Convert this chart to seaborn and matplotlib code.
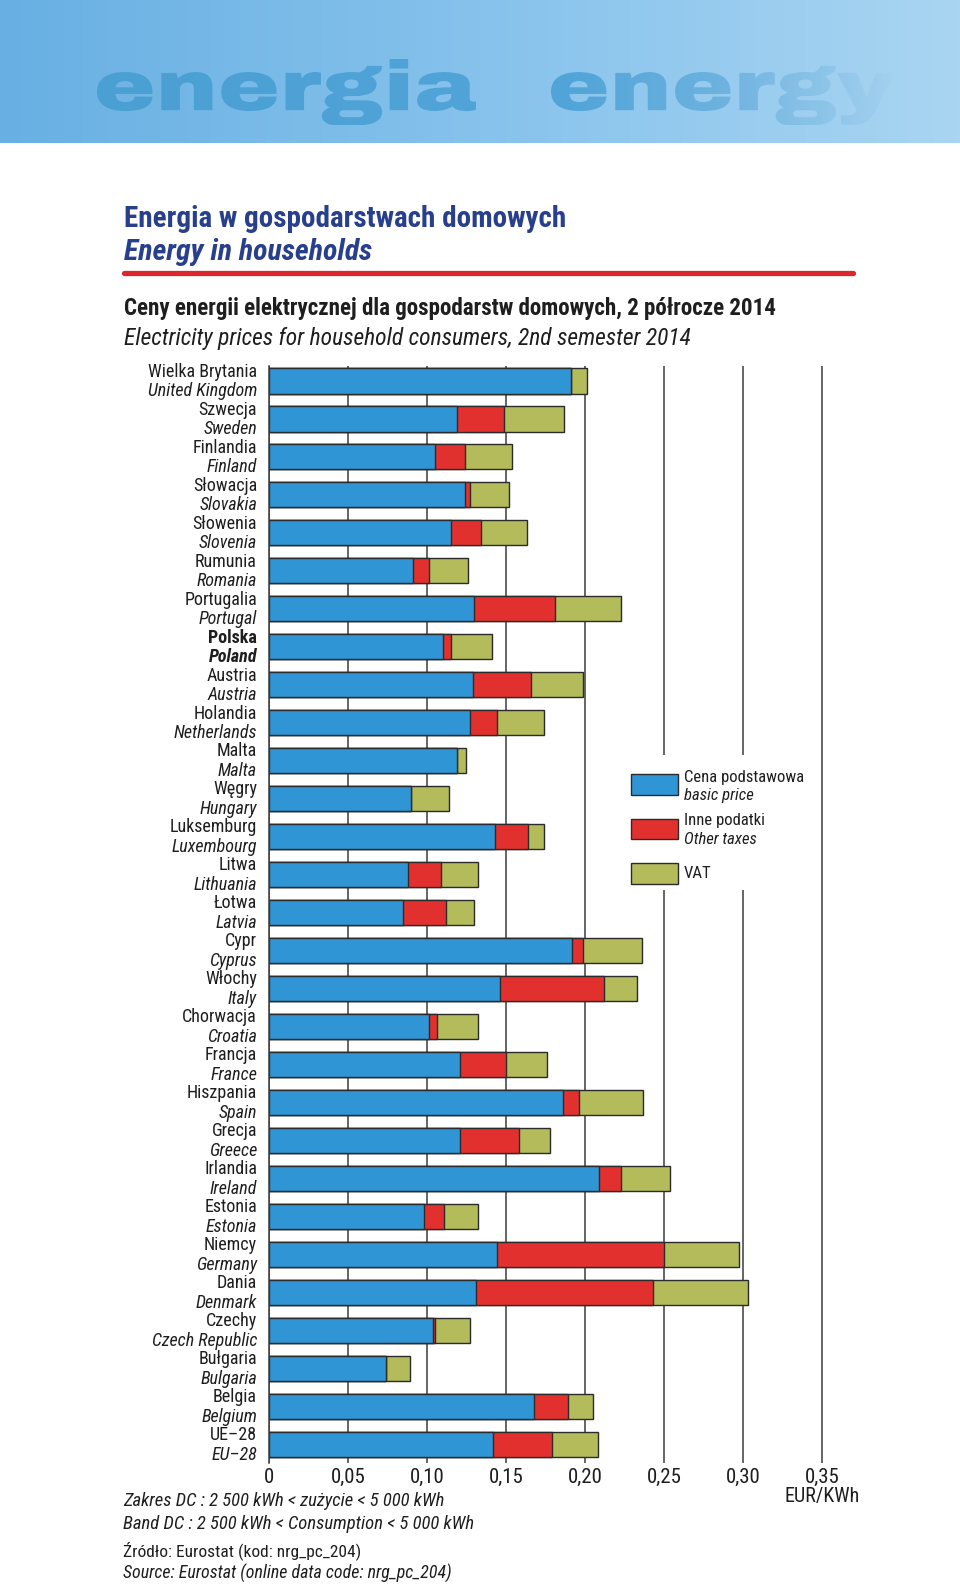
import numpy as np
import pandas as pd
import matplotlib
matplotlib.use("Agg")
import matplotlib.pyplot as plt
import seaborn as sns
from matplotlib.textpath import TextPath
from matplotlib.patches import PathPatch, Rectangle
from matplotlib.font_manager import FontProperties, fontManager
from matplotlib.transforms import Affine2D
from matplotlib.colors import LinearSegmentedColormap
from matplotlib.lines import Line2D

# ---------------- data ----------------
countries_pl = ["Wielka Brytania", "Szwecja", "Finlandia", "Słowacja", "Słowenia", "Rumunia",
                "Portugalia", "Polska", "Austria", "Holandia", "Malta", "Węgry", "Luksemburg",
                "Litwa", "Łotwa", "Cypr", "Włochy", "Chorwacja", "Francja", "Hiszpania", "Grecja",
                "Irlandia", "Estonia", "Niemcy", "Dania", "Czechy", "Bułgaria", "Belgia", "UE–28"]
countries_en = ["United Kingdom", "Sweden", "Finland", "Slovakia", "Slovenia", "Romania",
                "Portugal", "Poland", "Austria", "Netherlands", "Malta", "Hungary", "Luxembourg",
                "Lithuania", "Latvia", "Cyprus", "Italy", "Croatia", "France", "Spain", "Greece",
                "Ireland", "Estonia", "Germany", "Denmark", "Czech Republic", "Bulgaria", "Belgium", "EU–28"]
basic_price = [0.191, 0.119, 0.105, 0.124, 0.115, 0.091, 0.130, 0.110, 0.129, 0.127, 0.119, 0.090,
               0.143, 0.088, 0.085, 0.192, 0.146, 0.101, 0.121, 0.186, 0.121, 0.209, 0.098, 0.144,
               0.131, 0.104, 0.074, 0.168, 0.142]
other_taxes = [0.000, 0.030, 0.019, 0.003, 0.019, 0.010, 0.051, 0.005, 0.037, 0.017, 0.000, 0.000,
               0.021, 0.021, 0.027, 0.007, 0.066, 0.0055, 0.029, 0.010, 0.037, 0.014, 0.0125, 0.106,
               0.112, 0.001, 0.000, 0.021, 0.037]
vat = [0.010, 0.0375, 0.030, 0.025, 0.029, 0.025, 0.042, 0.026, 0.033, 0.030, 0.006, 0.024,
       0.010, 0.023, 0.018, 0.037, 0.021, 0.026, 0.026, 0.041, 0.020, 0.031, 0.022, 0.0475,
       0.060, 0.022, 0.015, 0.016, 0.029]
highlight = "Poland"
x_ticks = [0, 0.05, 0.10, 0.15, 0.20, 0.25, 0.30, 0.35]
x_tick_labels = ["0", "0,05", "0,10", "0,15", "0,20", "0,25", "0,30", "0,35"]
legend_pl = ["Cena podstawowa", "Inne podatki", "VAT"]
legend_en = ["basic price", "Other taxes", ""]

# ---------------- style ----------------
sns.set_style("white")
names = {f.name for f in fontManager.ttflist}
BODY = "Roboto Condensed" if "Roboto Condensed" in names else "DejaVu Sans"
HEAVY = "Archivo Black" if "Archivo Black" in names else "DejaVu Sans"
plt.rcParams["font.family"] = [BODY, "DejaVu Sans"]

BLUE = "#2f95d5"
RED = "#e2302e"
GREEN = "#b3bb5b"
EDGE = "#2b2b2b"
GRID = "#3c3c3c"
TITLE_BLUE = "#273f8c"
INK = "#1e1e1e"

W, H = 960, 1586
fig = plt.figure(figsize=(W / 100, H / 100), dpi=100)
fig.patch.set_facecolor("white")

# ---------------- header band ----------------
hh = 143
hax = fig.add_axes([0, 1 - hh / H, 1, hh / H])
bg_cmap = LinearSegmentedColormap.from_list("bg", ["#68b0e3", "#86c2ec", "#a9d5f2"])
hax.imshow(np.linspace(0, 1, 256)[None, :], extent=(0, W, hh, 0), aspect="auto", cmap=bg_cmap)
txt_cmap = LinearSegmentedColormap.from_list(
    "tx", [(0.0, "#4a9fd3"), (0.6, "#52a5d8"), (0.78, "#6cb2df"), (1.0, "#a2d0ef")])
fp = FontProperties(family=HEAVY, weight="black")
p1 = TextPath((0, 0), "energia", size=100, prop=fp)
b1 = p1.get_extents()
sx1 = (476 - 97) / b1.width
sy = (125 - 59) / b1.height
ty = 59 + sy * b1.y1
t1 = Affine2D().scale(sx1, -sy).translate(97 - sx1 * b1.x0, ty)
p2 = TextPath((0, 0), "energy", size=100, prop=fp)
b2 = p2.get_extents()
sx2 = (894 - 551) / b2.width
t2 = Affine2D().scale(sx2, -sy).translate(551 - sx2 * b2.x0, ty)
for path, tr in [(p1, t1), (p2, t2)]:
    patch = PathPatch(path.transformed(tr), facecolor="none", edgecolor="none", transform=hax.transData)
    hax.add_patch(patch)
    im = hax.imshow(np.linspace(0, 1, 256)[None, :], extent=(97, 894, hh, 0), aspect="auto", cmap=txt_cmap)
    im.set_clip_path(patch)
hax.set_xlim(0, W)
hax.set_ylim(hh, 0)
hax.axis("off")

# ---------------- titles ----------------
def fy(px):
    return 1 - px / H

x0 = 124 / W
fig.text(x0, fy(219), "Energia w gospodarstwach domowych", fontsize=21, fontweight="bold",
         color=TITLE_BLUE, va="center", ha="left")
fig.text(x0, fy(252), "Energy in households", fontsize=21.5, fontweight="bold", fontstyle="italic",
         color=TITLE_BLUE, va="center", ha="left")
fig.add_artist(Line2D([124 / W, 853 / W], [fy(273), fy(273)], color="#d9272d", lw=3.8,
                      transform=fig.transFigure))
fig.text(x0, fy(309), "Ceny energii elektrycznej dla gospodarstw domowych, 2 półrocze 2014",
         fontsize=16.6, fontweight="bold", color=INK, va="center", ha="left")
fig.text(x0, fy(338), "Electricity prices for household consumers, 2nd semester 2014",
         fontsize=16.9, fontstyle="italic", color=INK, va="center", ha="left")

# ---------------- chart ----------------
PX = 1580.0   # pixels per EUR/kWh
x_left = 269
xmax = 0.36
row0 = 381.0
pitch = 37.98
ytop, ybot = -0.4, 28.5
top_px = row0 + ytop * pitch
bot_px = row0 + ybot * pitch
ax = fig.add_axes([x_left / W, 1 - bot_px / H, xmax * PX / W, (bot_px - top_px) / H])

df = pd.DataFrame({"country": countries_en, "basic": basic_price, "other": other_taxes, "vat": vat})
df["c1"] = df["basic"]
df["c2"] = df["basic"] + df["other"]
df["c3"] = df["c2"] + df["vat"]

for col, colr in [("c3", GREEN), ("c2", RED), ("c1", BLUE)]:
    sns.barplot(data=df, x=col, y="country", orient="h", color=colr, saturation=1,
                width=0.66, edgecolor=EDGE, linewidth=1.0, errorbar=None, ax=ax)

ax.set_xlim(0, xmax)
ax.set_ylim(ybot, ytop)
ax.set_xlabel("")
ax.set_ylabel("")
ax.set_yticks([])
ax.set_xticks(x_ticks)
ax.set_xticklabels(x_tick_labels, fontsize=15, color=INK)
ax.tick_params(axis="x", length=0, pad=3.5)
ax.xaxis.grid(True, color=GRID, lw=1.1)
ax.yaxis.grid(False)
ax.set_axisbelow(True)
for s in ["top", "right", "bottom"]:
    ax.spines[s].set_visible(False)
ax.spines["left"].set_color(GRID)
ax.spines["left"].set_linewidth(1.1)
ax.set_facecolor("none")

# country labels
lx = (257 - x_left) / PX
for i, (pl, en) in enumerate(zip(countries_pl, countries_en)):
    w = "bold" if en == highlight else "normal"
    ax.text(lx, i - 0.245, pl, ha="right", va="center", fontsize=13, fontweight=w,
            color=INK, clip_on=False)
    ax.text(lx, i + 0.265, en, ha="right", va="center", fontsize=13, fontweight=w,
            fontstyle="italic", color=INK, clip_on=False)

# unit label
ax.text(0.35, (1497 - row0) / pitch, "EUR/KWh", ha="center", va="center", fontsize=14.5,
        color=INK, clip_on=False)

# legend (white box covering grid lines)
def ry(px):
    return (px - row0) / pitch

ax.add_patch(Rectangle(((622 - x_left) / PX, ry(755)), (815 - 622) / PX, ry(890) - ry(755),
                       facecolor="white", edgecolor="none", zorder=0.8))
lx0 = (631 - x_left) / PX
lw_ = (678 - 631) / PX
tx = (684 - x_left) / PX
for (ytop_px, ybot_px), colr, pl, en, ty_pl, ty_en in [
        ((774, 795), BLUE, legend_pl[0], legend_en[0], 777.5, 795.5),
        ((819, 839), RED, legend_pl[1], legend_en[1], 821, 840),
        ((863, 884), GREEN, legend_pl[2], legend_en[2], 873.5, None)]:
    ax.add_patch(Rectangle((lx0, ry(ytop_px)), lw_, ry(ybot_px) - ry(ytop_px), facecolor=colr,
                           edgecolor=EDGE, linewidth=1.0, zorder=3))
    ax.text(tx, ry(ty_pl), pl, ha="left", va="center", fontsize=12, color=INK, zorder=3)
    if en:
        ax.text(tx, ry(ty_en), en, ha="left", va="center", fontsize=12, fontstyle="italic",
                color=INK, zorder=3)

# ---------------- footnotes ----------------
fx = 123 / W
fig.text(fx, fy(1501), "Zakres DC : 2 500 kWh < zużycie < 5 000 kWh", fontsize=13.4,
         fontstyle="italic", color=INK, va="center")
fig.text(fx, fy(1524), "Band DC : 2 500 kWh < Consumption < 5 000 kWh", fontsize=13.4,
         fontstyle="italic", color=INK, va="center")
fig.text(fx, fy(1551), "Źródło: Eurostat (kod: nrg_pc_204)", fontsize=12.5,
         color=INK, va="center")
fig.text(fx, fy(1573), "Source: Eurostat (online data code: nrg_pc_204)", fontsize=12.9,
         fontstyle="italic", color=INK, va="center")

fig.savefig("out.png", dpi=100, facecolor="white")
